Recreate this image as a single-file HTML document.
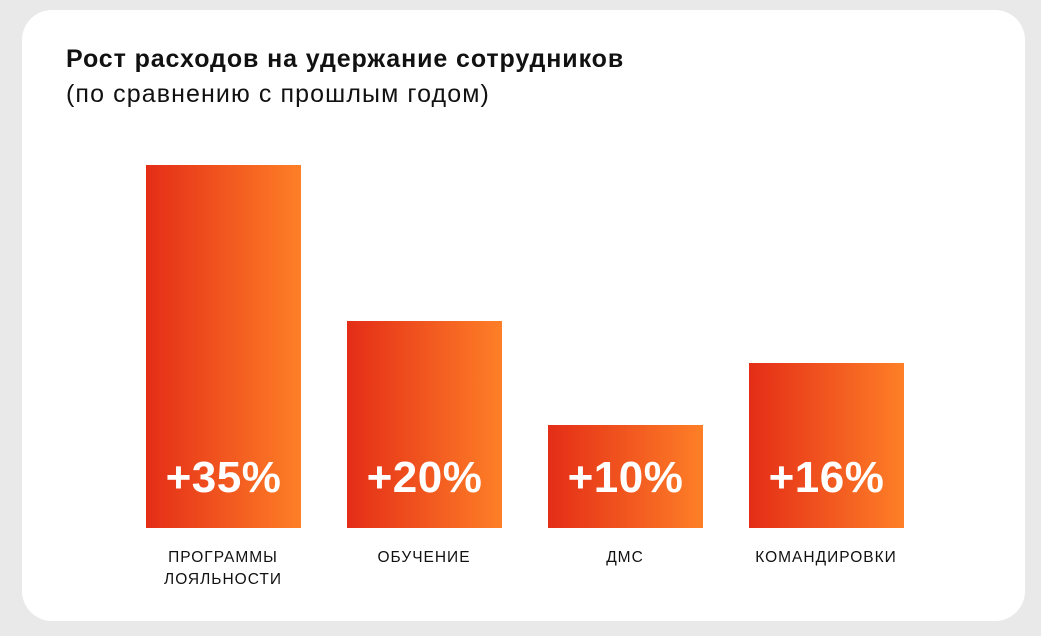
<!DOCTYPE html>
<html><head><meta charset="utf-8"><style>
html,body{margin:0;padding:0;}
body{width:1041px;height:636px;background:#e9e9e9;position:relative;overflow:hidden;font-family:"Liberation Sans","DejaVu Sans",sans-serif;}
.card{position:absolute;left:22px;top:10px;width:1003px;height:611px;background:#fff;border-radius:30px;}
.t1{position:absolute;left:66px;top:45px;font-size:25px;font-weight:bold;color:#111;letter-spacing:0.9px;white-space:nowrap;}
.t2{position:absolute;left:66px;top:80px;font-size:25px;color:#111;letter-spacing:1.1px;white-space:nowrap;}
.bar{position:absolute;width:155px;background:linear-gradient(90deg,#e42d17,#fe7f27);}
.v{position:absolute;width:155px;top:453px;height:50px;text-align:center;color:#fff;font-size:44px;font-weight:bold;line-height:50px;letter-spacing:0.5px;}
.l{position:absolute;width:200px;top:547px;text-align:center;color:#111;font-size:15.5px;line-height:22px;letter-spacing:1px;}
</style></head><body>
<div class="card"></div>
<div class="t1">Рост расходов на удержание сотрудников</div>
<div class="t2">(по сравнению с прошлым годом)</div>
<div class="bar" style="left:146px;top:165px;height:363px"></div>
<div class="bar" style="left:347px;top:321px;height:207px"></div>
<div class="bar" style="left:548px;top:425px;height:103px"></div>
<div class="bar" style="left:749px;top:363px;height:165px"></div>
<div class="v" style="left:146px">+35%</div>
<div class="v" style="left:347px">+20%</div>
<div class="v" style="left:548px">+10%</div>
<div class="v" style="left:749px">+16%</div>
<div class="l" style="left:123px">ПРОГРАММЫ<br>ЛОЯЛЬНОСТИ</div>
<div class="l" style="left:324px">ОБУЧЕНИЕ</div>
<div class="l" style="left:525px">ДМС</div>
<div class="l" style="left:726px">КОМАНДИРОВКИ</div>
</body></html>
